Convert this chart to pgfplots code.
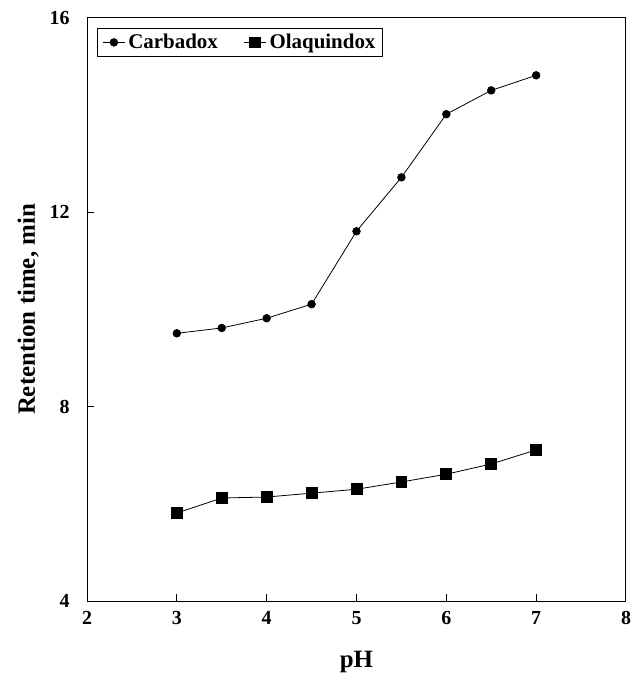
\documentclass[border=0pt]{standalone}
\usepackage{fontspec}
\setmainfont{Liberation Serif}
\usepackage{pgfplots}
\pgfplotsset{compat=1.18}

\begin{document}
\begin{tikzpicture}[x=1bp,y=1bp]
\useasboundingbox (-87bp,-73bp) rectangle (544bp,601bp);
\begin{axis}[width=539bp,height=583bp,scale only axis,
at={(0,0)},anchor=south west,
xmin=2,xmax=8,ymin=4,ymax=16,
xtick={2,3,4,5,6,7,8},ytick={4,8,12,16},
tick align=inside,xtick pos=bottom,ytick pos=left,
major tick length=7bp,
axis line style={line width=1pt},
tick style={line width=1pt,black},
/pgf/number format/assume math mode=true,
ticklabel style={font=\fontsize{20}{22}\selectfont\bfseries},
xticklabel style={yshift=-7bp},
yticklabel style={xshift=-14bp},
xlabel={pH},ylabel={Retention time, min},
label style={font=\fontsize{25}{28}\selectfont\bfseries},
xlabel style={at={(axis description cs:0.5,-0.105)},anchor=center},
ylabel style={at={(axis description cs:-0.109,0.5)},anchor=center},
legend columns=2,
legend style={at={(0.0186,0.983)},anchor=north west,draw=black,line width=1pt,
font=\fontsize{21}{24}\selectfont\bfseries,inner xsep=5bp,inner ysep=4bp,
/tikz/every odd column/.append style={column sep=1bp},
/tikz/every even column/.append style={column sep=24bp}},
legend image code/.code={\draw[mark repeat=2,mark phase=2,#1] plot coordinates {(0bp,0bp)(11bp,0bp)(22bp,0bp)};}
]
\addplot[black,line width=0.8pt,mark=*,mark size=3.8pt,mark options={solid}] coordinates {
(3,9.51)(3.5,9.62)(4,9.82)(4.5,10.11)(5,11.61)(5.5,12.72)(6,14.02)(6.5,14.51)(7,14.82)};
\addlegendentry{Carbadox}
\addplot[black,line width=0.8pt,mark=square*,mark size=5.5pt,mark options={solid}] coordinates {
(3,5.81)(3.5,6.12)(4,6.14)(4.5,6.22)(5,6.30)(5.5,6.45)(6,6.61)(6.5,6.82)(7,7.11)};
\addlegendentry{Olaquindox}
\end{axis}
\end{tikzpicture}
\end{document}
